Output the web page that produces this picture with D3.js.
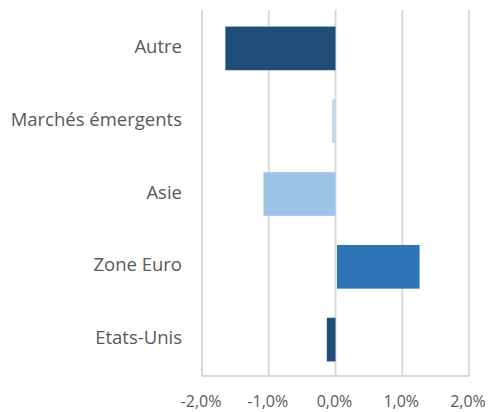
<!DOCTYPE html>
<html><head><meta charset="utf-8">
<script src="https://cdn.jsdelivr.net/npm/d3@7"></script>
<style>body{margin:0;background:#fff}svg{display:block}</style>
</head><body>
<script>
const categories = ["Autre", "Marchés émergents", "Asie", "Zone Euro", "Etats-Unis"];
const values = [-1.65, -0.05, -1.08, 1.26, -0.13];
const colors = ["#1f4e79", "#bdd7ee", "#9dc3e6", "#2e75b6", "#1f4e79"];
const ticks = [-2, -1, 0, 1, 2];

const W = 493, H = 412;
const svg = d3.select("body").append("svg").attr("width", W).attr("height", H);
const x = d3.scaleLinear().domain([-2, 2]).range([202, 469]);
const y = d3.scaleBand().domain(categories).range([12, 376]).paddingInner(0.4).paddingOuter(0.2);
const font = "'Open Sans', 'Liberation Sans', sans-serif";

svg.append("g").selectAll("line").data(ticks).join("line")
  .attr("x1", d => x(d)).attr("x2", d => x(d)).attr("y1", 10).attr("y2", 376)
  .attr("stroke", "#d9d9d9").attr("stroke-width", 2);

svg.append("line").attr("x1", x(-2)).attr("x2", x(2)).attr("y1", 376).attr("y2", 376)
  .attr("stroke", "#d9d9d9").attr("stroke-width", 2);

svg.append("g").selectAll("rect").data(values).join("rect")
  .attr("x", d => x(Math.min(0, d)) + (d > 0 ? 1.5 : 0))
  .attr("width", d => Math.abs(x(d) - x(0)) - (d > 0 ? 1.5 : 0))
  .attr("y", (d, i) => y(categories[i]))
  .attr("height", y.bandwidth())
  .attr("fill", (d, i) => colors[i]);

const fmt = d => d3.format(".1f")(d).replace(".", ",").replace("−", "-") + "%";
svg.append("g").selectAll("text").data(ticks).join("text")
  .attr("x", d => x(d) - 1).attr("y", 407)
  .attr("text-anchor", "middle").attr("font-family", font).attr("font-size", 16)
  .attr("fill", "#595959").text(fmt);

svg.append("g").selectAll("text").data(categories).join("text")
  .attr("x", 182).attr("y", d => y(d) + y.bandwidth() / 2)
  .attr("dy", "0.25em")
  .attr("text-anchor", "end").attr("font-family", font).attr("font-size", 18.5)
  .attr("fill", "#595959").text(d => d);
</script>
</body></html>
